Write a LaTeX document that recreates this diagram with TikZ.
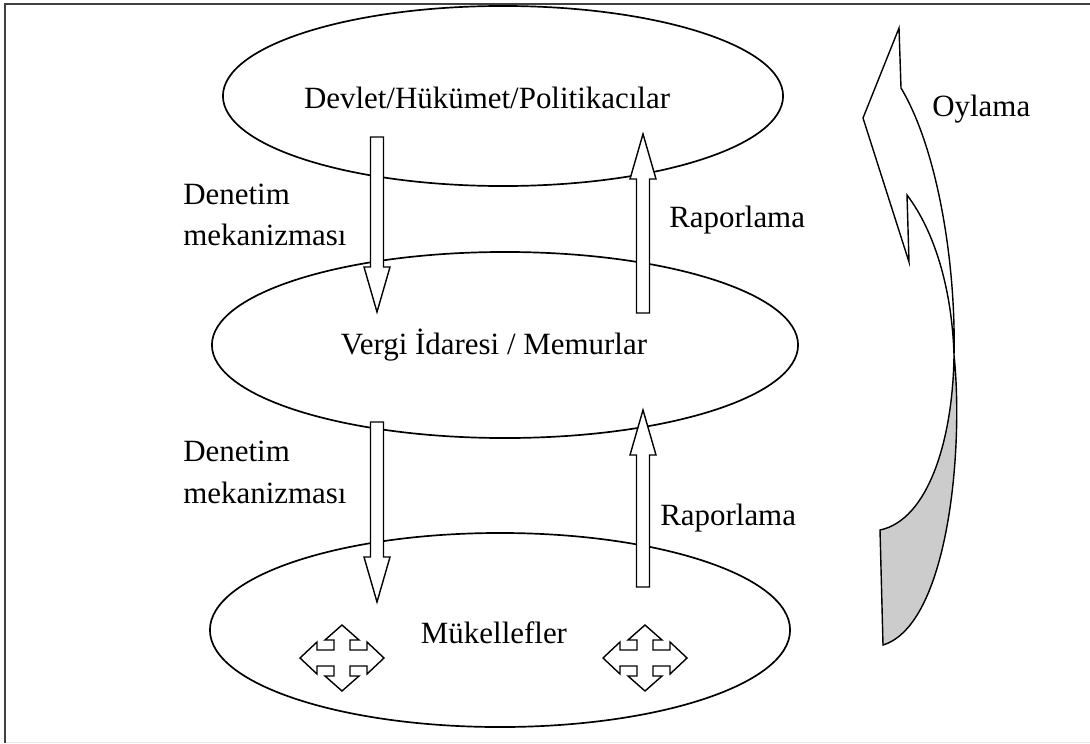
\documentclass[tikz,border=0pt]{standalone}
\usepackage{fontspec}
\setmainfont{Liberation Serif}
\usetikzlibrary{shapes.geometric}

\begin{document}
\begin{tikzpicture}[x=0.025cm,y=-0.025cm,
		tier/.style={ellipse,draw,line width=1.2pt,inner sep=0pt},
		txt/.style={font=\fontsize{22}{27}\selectfont,inner sep=0pt},
		blockarrow/.style={draw,fill=white,line width=1pt,line join=miter},
		movecross/.style={draw,fill=white,line width=1pt}]
		\useasboundingbox (0,0) rectangle (1090,743);
		% frame
		\draw[gray!20,line width=0.6pt] (5,742) -- (1090,742);
		\draw[black!75,line width=1.6pt] (5,743) -- (5,4) -- (1090,4);
		% tiers
		\node[tier,minimum width=14cm,minimum height=4.5cm] (devlet) at (503,96) {};
		\node[tier,minimum width=14.65cm,minimum height=4.65cm] (idare) at (505,345) {};
		\node[tier,minimum width=14.5cm,minimum height=4.85cm] (mukellef) at (500,630) {};
		\node[txt] (devletlbl) at (487,98) {Devlet/Hükümet/Politikacılar};
		\node[txt] (idarelbl) at (494,345) {Vergi İdaresi / Memurlar};
		\node[txt] (mukelleflbl) at (494,633) {Mükellefler};
		% block arrows
		\foreach \x/\ys/\ye in {377/137/312, 377/422/602, 643/313/134, 643/587/410}{
			\pgfmathsetmacro{\yh}{\ye-45*sign(\ye-\ys)}
			\draw[blockarrow] (\x-6.5,\ys) -- (\x-6.5,\yh) -- (\x-13,\yh) -- (\x,\ye)
				-- (\x+13,\yh) -- (\x+6.5,\yh) -- (\x+6.5,\ys) -- cycle;
		}
		% labels
		\node[txt,anchor=base west] (denetim1) at (183,204) {Denetim};
		\node[txt,anchor=base west] (mekanizma1) at (183,245) {mekanizması};
		\node[txt,anchor=base west] (denetim2) at (183,461) {Denetim};
		\node[txt,anchor=base west] (mekanizma2) at (183,503) {mekanizması};
		\node[txt,anchor=base west] (rapor1) at (669,227) {Raporlama};
		\node[txt,anchor=base west] (rapor2) at (660,525) {Raporlama};
		% crosses
		\foreach \cx in {342,645}{
			\draw[movecross,shift={(\cx,658)}] (0,-33) -- (17,-18) -- (8,-18) -- (8,-8) -- (25,-8) -- (25,-16)
				-- (42,0) -- (25,16) -- (25,8) -- (8,8) -- (8,18) -- (17,18) -- (0,33) -- (-17,18)
				-- (-8,18) -- (-8,8) -- (-25,8) -- (-25,16) -- (-42,0) -- (-25,-16) -- (-25,-8)
				-- (-8,-8) -- (-8,-18) -- (-17,-18) -- cycle;
		}
		% voting arrow
		\coordinate (tip) at (899,28);
		\coordinate (twist) at (954,355);
		\draw[blockarrow] (tip) -- (901,88) .. controls (938,150) and (956,265) .. (twist)
			.. controls (952,290) and (935,232) .. (907,195) -- (909,262) -- (863,118) -- cycle;
		\draw[blockarrow,fill=gray!40] (twist) .. controls (964,450) and (948,625) .. (883,645)
			-- (880,530) .. controls (928,520) and (953,440) .. (twist);
		\node[txt,anchor=base west] (oylama) at (932,116) {Oylama};
\end{tikzpicture}
\end{document}
